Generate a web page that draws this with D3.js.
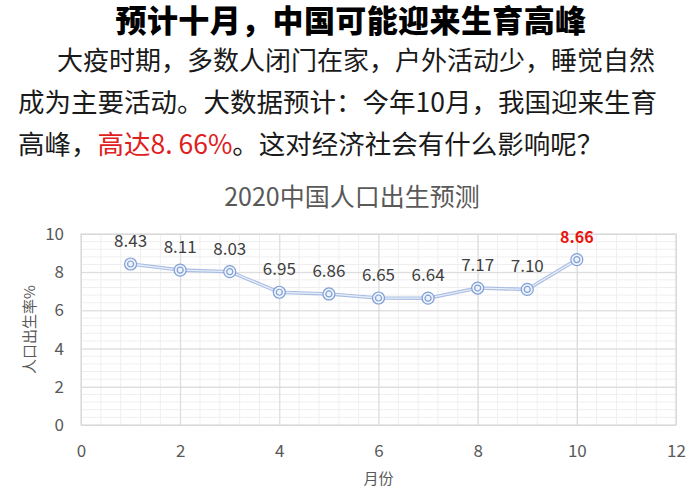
<!DOCTYPE html>
<html>
<head>
<meta charset="utf-8">
<script src="https://cdn.jsdelivr.net/npm/d3@7"></script>
<style>
	body { margin: 0; background: #fff; }
	svg text { font-family: "Noto Sans CJK SC", "Noto Sans", sans-serif; }
</style>
</head>
<body>
<div id="chart"></div>
<script>
const months = [1, 2, 3, 4, 5, 6, 7, 8, 9, 10];
const birthRates = [8.43, 8.11, 8.03, 6.95, 6.86, 6.65, 6.64, 7.17, 7.10, 8.66];
const xTicks = [0, 2, 4, 6, 8, 10, 12];
const yTicks = [0, 2, 4, 6, 8, 10];
const headline = '预计十月，中国可能迎来生育高峰';
const paragraph = [
	['大疫时期，多数人闭门在家，户外活动少，睡觉自然'],
	['成为主要活动。大数据预计：今年10月，我国迎来生育'],
	['高峰，', '高达8. 66%', '。这对经济社会有什么影响呢？']
];
const chartTitle = '2020中国人口出生预测';
const xTitle = '月份';
const yTitle = '人口出生率%';

let svgWidth = 700
let svgHeight = 500
let padding = { 'left': 81, 'right': 24, 'top': 234, 'bottom': 75 }

let svg = d3.select('#chart').append('svg')
	.attr('width', svgWidth)
	.attr('height', svgHeight)

// heading + paragraph
svg.append('text')
	.attr('x', 351)
	.attr('y', 32)
	.attr('text-anchor', 'middle')
	.attr('font-size', '31px')
	.attr('font-weight', '900')
	.attr('letter-spacing', '0.4px')
	.attr('fill', '#000')
	.text(headline)

let lineX = [57, 18, 18]
let lineY = [70, 112, 154]
let lineSize = ['26px', '26.5px', '26.5px']
paragraph.forEach((parts, i) => {
	let t = svg.append('text')
		.attr('x', lineX[i])
		.attr('y', lineY[i])
		.attr('font-size', lineSize[i])
		.attr('fill', '#1a1a1a')
	parts.forEach(p => {
		t.append('tspan')
			.attr('fill', p.startsWith('高达') ? '#e0201c' : '#1a1a1a')
			.text(p)
	})
})

// chart title
svg.append('text')
	.attr('x', 352)
	.attr('y', 206)
	.attr('text-anchor', 'middle')
	.attr('font-size', '25px')
	.attr('fill', '#595959')
	.text(chartTitle)

let x = d3.scaleLinear()
	.domain([0, 12])
	.range([padding.left, svgWidth - padding.right])
let y = d3.scaleLinear()
	.domain([0, 10])
	.range([svgHeight - padding.bottom, padding.top])

// minor grid
let grid = svg.append('g').classed('grid', true)
grid.selectAll('.minor-x')
	.data(d3.range(0, 12.01, 0.4))
	.enter()
	.append('line')
	.attr('x1', d => x(d)).attr('x2', d => x(d))
	.attr('y1', y(0)).attr('y2', y(10))
	.attr('stroke', '#efefef')
	.attr('stroke-width', 1)
grid.selectAll('.minor-y')
	.data(d3.range(0, 10.01, 0.4))
	.enter()
	.append('line')
	.attr('x1', x(0)).attr('x2', x(12))
	.attr('y1', d => y(d)).attr('y2', d => y(d))
	.attr('stroke', '#efefef')
	.attr('stroke-width', 1)

let axis_x = d3.axisBottom()
	.scale(x)
	.tickValues(xTicks)
	.tickSize(-(y(0) - y(10)))
	.tickPadding(20)
	.tickFormat(d => d)
let axis_y = d3.axisLeft()
	.scale(y)
	.tickValues(yTicks)
	.tickSize(-(x(12) - x(0)))
	.tickPadding(17)
	.tickFormat(d => d)

let axes = svg.append('g').classed('axes', true)

axes.append('g')
	.classed('x-axis', true)
	.attr('transform', `translate(0, ${y(0)})`)
	.call(axis_x)
	.call(g => g.select('.domain').remove())
	.call(g => g.selectAll('.tick line').attr('stroke', '#d9d9d9'))
	.call(g => g.selectAll('.tick text')
		.attr('fill', '#595959')
		.style('font-size', '17px'))

axes.append('g')
	.classed('y-axis', true)
	.attr('transform', `translate(${x(0)}, 0)`)
	.call(axis_y)
	.call(g => g.select('.domain').remove())
	.call(g => g.selectAll('.tick line').attr('stroke', '#d9d9d9'))
	.call(g => g.selectAll('.tick text')
		.attr('fill', '#595959')
		.style('font-size', '17px'))

// plot border
svg.append('rect')
	.attr('x', x(0))
	.attr('y', y(10))
	.attr('width', x(12) - x(0))
	.attr('height', y(0) - y(10))
	.attr('fill', 'none')
	.attr('stroke', '#d9d9d9')

svg.append('text')
	.attr('x', (x(0) + x(12)) / 2)
	.attr('y', 484)
	.attr('text-anchor', 'middle')
	.attr('font-size', '15px')
	.attr('fill', '#595959')
	.text(xTitle)

svg.append('text')
	.attr('transform', `translate(35, ${(y(0) + y(10)) / 2}) rotate(-90)`)
	.attr('text-anchor', 'middle')
	.attr('font-size', '15px')
	.attr('fill', '#595959')
	.text(yTitle)

// series
let data = months.map((m, i) => ({ month: m, value: birthRates[i] }))
let line = d3.line()
	.x(d => x(d.month))
	.y(d => y(d.value))

let body = svg.append('g').classed('body', true)
body.append('path')
	.datum(data)
	.attr('d', line)
	.attr('fill', 'none')
	.attr('stroke', '#a9bde3')
	.attr('stroke-width', 3.5)
body.append('path')
	.datum(data)
	.attr('d', line)
	.attr('fill', 'none')
	.attr('stroke', '#e6edf8')
	.attr('stroke-width', 1.3)

let points = body.selectAll('.pt')
	.data(data)
	.enter()
	.append('g')
	.attr('class', 'pt')
	.attr('transform', d => `translate(${x(d.month)}, ${y(d.value)})`)
points.append('circle')
	.attr('r', 6)
	.attr('fill', '#eef3fb')
	.attr('stroke', '#7f9fd6')
	.attr('stroke-width', 1.2)
points.append('circle')
	.attr('r', 3)
	.attr('fill', 'none')
	.attr('stroke', '#7f9fd6')
	.attr('stroke-width', 1.2)

body.selectAll('.label')
	.data(data)
	.enter()
	.append('text')
	.attr('class', 'label')
	.attr('x', d => x(d.month))
	.attr('y', d => y(d.value) - 17)
	.attr('text-anchor', 'middle')
	.attr('font-size', d => d.month === 10 ? '16px' : '17px')
	.attr('font-weight', d => d.month === 10 ? '700' : '400')
	.attr('fill', d => d.month === 10 ? '#e8150f' : '#404040')
	.text(d => d.value.toFixed(2))
</script>
</body>
</html>
